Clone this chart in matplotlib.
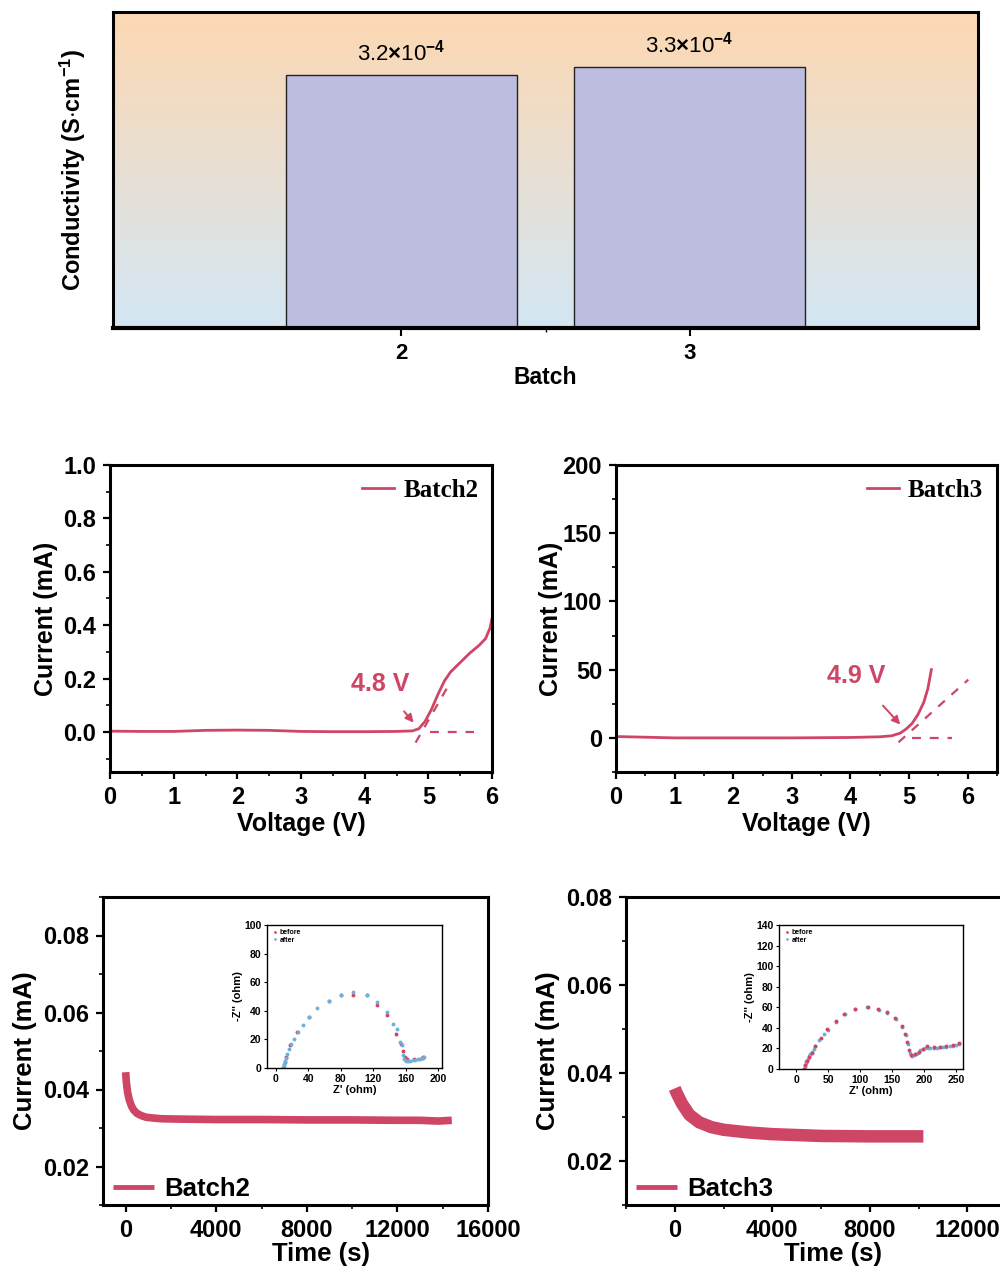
import matplotlib
matplotlib.use("Agg")
import matplotlib.pyplot as plt
import numpy as np
from matplotlib.ticker import MultipleLocator, FixedLocator

plt.rcParams['font.family'] = ['Liberation Sans', 'DejaVu Sans']
plt.rcParams['font.weight'] = 'bold'
plt.rcParams['mathtext.fontset'] = 'custom'
plt.rcParams['mathtext.rm'] = 'Liberation Sans'
plt.rcParams['mathtext.bf'] = 'Liberation Sans:bold'
plt.rcParams['mathtext.it'] = 'Liberation Sans:italic'

RED = '#CF4566'
BLUE = '#6FAFD8'

# ---------------- data ----------------
batches = ['2', '3']
batch_pos = [2, 3]
conductivity = [3.2e-4, 3.3e-4]
cond_labels = [r'3.2$\times$10$^{-4}$', r'3.3$\times$10$^{-4}$']

lsv2_v = [0, 0.5, 1.0, 1.5, 2.0, 2.5, 3.0, 3.5, 4.0, 4.5, 4.75, 4.85, 4.95, 5.05, 5.15, 5.25, 5.35, 5.5, 5.65, 5.8, 5.9, 5.97, 6.0]
lsv2_i = [0.003, 0.002, 0.002, 0.006, 0.007, 0.006, 0.002, 0.001, 0.001, 0.002, 0.004, 0.012, 0.04, 0.085, 0.14, 0.19, 0.225, 0.26, 0.295, 0.325, 0.35, 0.39, 0.425]
lsv2_tan_v = [4.8, 5.34]
lsv2_tan_i = [-0.04, 0.184]
lsv2_base_v = [5.03, 5.71]
lsv2_base_i = [0.0, 0.0]

lsv3_v = [0, 0.5, 1, 2, 3, 4, 4.5, 4.7, 4.85, 4.95, 5.05, 5.15, 5.25, 5.32, 5.38]
lsv3_i = [1, 0.5, 0, 0, 0, 0.3, 0.8, 1.5, 3.5, 6.5, 10.5, 17, 26, 36, 50]
lsv3_tan_v = [4.82, 6.01]
lsv3_tan_i = [-3.2, 42.7]
lsv3_base_v = [5.05, 5.73]
lsv3_base_i = [0.0, 0.0]

ca2_t = [0, 30, 80, 150, 250, 350, 500, 700, 900, 1200, 1600, 2500, 4000, 6000, 8000, 10000, 12000, 13000, 13800, 14400]
ca2_i = [0.0445, 0.042, 0.0395, 0.0375, 0.0358, 0.0347, 0.0338, 0.0332, 0.0328, 0.0326, 0.0324, 0.0323, 0.0322, 0.0322, 0.0321, 0.0321, 0.0320, 0.0320, 0.0318, 0.0320]

ca3_t = [0, 100, 300, 600, 1000, 1500, 2000, 3000, 4000, 6000, 8000, 10200]
ca3_i = [0.0365, 0.0352, 0.0330, 0.0305, 0.0288, 0.0277, 0.0271, 0.0265, 0.0261, 0.0257, 0.0256, 0.0256]

eis2_before_x = [10, 11, 13, 18, 26, 41, 65, 80, 95, 112, 125, 137, 148, 154, 157, 159, 162, 170, 180, 182]
eis2_before_y = [0, 4, 8, 16, 25, 36, 47, 51, 51, 51, 44, 37, 24, 17, 12, 8, 6, 6, 7, 8]
eis2_after_x = [9, 9, 10, 10, 11, 12, 14, 16, 19, 22, 27, 33, 41, 51, 65, 80, 95, 112, 125, 137, 145, 149, 153, 156, 157, 158, 160, 163, 166, 169, 172, 175, 178, 181, 183]
eis2_after_y = [0, 1, 2, 3, 5, 7, 10, 13, 17, 20, 25, 30, 36, 42, 47, 51, 53, 51, 46, 39, 31, 27, 18, 16, 9, 6, 5, 5, 5, 5.5, 5.5, 6, 6.5, 7, 7.5]

eis3_before_x = [12, 14, 17, 20, 24, 30, 38, 48, 62, 75, 92, 112, 128, 142, 155, 165, 170, 174, 177, 180, 186, 192, 198, 205, 215, 225, 235, 245, 255]
eis3_before_y = [0, 4, 8, 12, 16, 22, 30, 39, 47, 53, 58, 60, 58, 55, 50, 42, 34, 26, 18, 14, 15, 17, 19, 22, 21, 21, 22, 23, 25]
eis3_after_x = [12, 13, 14, 15, 16, 18, 20, 22, 24, 27, 30, 36, 44, 50, 62, 76, 92, 110, 130, 142, 156, 166, 171, 175, 178, 181, 184, 187, 190, 194, 198, 202, 206, 210, 215, 220, 225, 230, 235, 240, 245, 250, 255]
eis3_after_y = [0, 2, 4, 6, 8, 10, 13, 15, 17, 19, 22, 28, 34, 38, 46, 53, 58, 60, 57, 54, 49, 41, 33, 24, 16, 13, 14, 15, 16, 18, 19, 20, 20, 20, 20, 20, 21, 21, 21, 22, 22, 23, 24]

# ---------------- figure ----------------
fig = plt.figure(figsize=(10, 12.77), dpi=100)
W, H = 1000, 1277

def ax_px(x0, y0, x1, y1):
    return fig.add_axes([x0 / W, 1 - y1 / H, (x1 - x0) / W, (y1 - y0) / H])

def style(ax, lw=2.2):
    for s in ax.spines.values():
        s.set_linewidth(lw)
    ax.tick_params(which='major', direction='out', length=5, width=1.6, pad=5)
    ax.tick_params(which='minor', direction='out', length=3, width=1.2)

# ---- top: conductivity bar chart ----
ax0 = ax_px(113, 12, 978, 328)
ax0.set_xlim(1, 4)
ax0.set_ylim(0, 4e-4)
top = np.array([253, 216, 178]) / 255
bot = np.array([212, 231, 245]) / 255
grad = np.linspace(0, 1, 256)[:, None]
img = top[None, None, :] * (1 - grad[:, :, None]) + bot[None, None, :] * grad[:, :, None]
ax0.imshow(img, extent=[1, 4, 0, 4e-4], aspect='auto', zorder=0, origin='upper')
ax0.bar(batch_pos, conductivity, width=0.8, color='#BDBDDF', edgecolor='#222222', linewidth=1.0, zorder=2)
for xp, v, lab in zip(batch_pos, conductivity, cond_labels):
    ax0.text(xp, v + 0.12e-4, lab, ha='center', va='bottom', fontsize=16,
             fontweight='normal', zorder=3)
ax0.set_xticks(batch_pos)
ax0.set_xticklabels(batches, fontsize=16, fontweight='bold')
ax0.set_yticks([])
ax0.xaxis.set_minor_locator(FixedLocator([2.5]))
ax0.set_xlabel('Batch', fontsize=16.5, fontweight='bold', labelpad=1)
ax0.set_ylabel(r'Conductivity (S$\cdot$cm$^{\mathbf{-1}}$)', fontsize=17, fontweight='bold', labelpad=18)
for s in ax0.spines.values():
    s.set_linewidth(2.2)
ax0.spines['bottom'].set_linewidth(3)
ax0.tick_params(axis='x', which='major', direction='out', length=6, width=1.5, pad=5)
ax0.tick_params(axis='x', which='minor', direction='out', length=3, width=1.0)

serif = ['Liberation Serif', 'DejaVu Serif']

# ---- LSV batch2 ----
ax1 = ax_px(110, 465, 492, 772)
ax1.plot(lsv2_v, lsv2_i, color=RED, lw=2.0, label='Batch2')
ax1.plot(lsv2_tan_v, lsv2_tan_i, color=RED, lw=1.6, ls=(0, (4, 4)))
ax1.plot(lsv2_base_v, lsv2_base_i, color=RED, lw=1.6, ls=(0, (4, 4)))
ax1.annotate('4.8 V', xy=(4.77, 0.035), xytext=(4.25, 0.18), color=RED, fontsize=18,
             fontweight='bold', ha='center', va='center',
             arrowprops=dict(arrowstyle='-|>', color=RED, lw=1.4, shrinkA=12, shrinkB=0, mutation_scale=12))
ax1.set_xlim(0, 6)
ax1.set_ylim(-0.15, 1.0)
ax1.set_xticks(range(0, 7))
ax1.set_yticks([0.0, 0.2, 0.4, 0.6, 0.8, 1.0])
ax1.set_yticklabels(['0.0', '0.2', '0.4', '0.6', '0.8', '1.0'])
ax1.xaxis.set_minor_locator(MultipleLocator(0.5))
ax1.yaxis.set_minor_locator(MultipleLocator(0.1))
style(ax1)
ax1.tick_params(labelsize=17)
ax1.set_xlabel('Voltage (V)', fontsize=18, fontweight='bold', labelpad=2)
ax1.set_ylabel('Current (mA)', fontsize=18, fontweight='bold', labelpad=4)
ax1.legend(loc='upper right', frameon=False, prop={'family': serif, 'weight': 'bold', 'size': 18},
           handlelength=1.3, borderaxespad=0.15, handletextpad=0.35)

# ---- LSV batch3 ----
ax2 = ax_px(616, 465, 997, 772)
ax2.plot(lsv3_v, lsv3_i, color=RED, lw=2.0, label='Batch3')
ax2.plot(lsv3_tan_v, lsv3_tan_i, color=RED, lw=1.6, ls=(0, (4, 4)))
ax2.plot(lsv3_base_v, lsv3_base_i, color=RED, lw=1.6, ls=(0, (4, 4)))
ax2.annotate('4.9 V', xy=(4.85, 9.8), xytext=(4.1, 45), color=RED, fontsize=18,
             fontweight='bold', ha='center', va='center',
             arrowprops=dict(arrowstyle='-|>', color=RED, lw=1.4, shrinkA=14, shrinkB=0, mutation_scale=12))
ax2.set_xlim(0, 6.5)
ax2.set_ylim(-25, 200)
ax2.set_xticks(range(0, 7))
ax2.set_yticks([0, 50, 100, 150, 200])
ax2.xaxis.set_minor_locator(MultipleLocator(0.5))
ax2.yaxis.set_minor_locator(MultipleLocator(25))
style(ax2)
ax2.tick_params(labelsize=17)
ax2.set_xlabel('Voltage (V)', fontsize=18, fontweight='bold', labelpad=2)
ax2.set_ylabel('Current (mA)', fontsize=18, fontweight='bold', labelpad=0)
ax2.legend(loc='upper right', frameon=False, prop={'family': serif, 'weight': 'bold', 'size': 18},
           handlelength=1.3, borderaxespad=0.15, handletextpad=0.35)

# ---- CA batch2 ----
ax3 = ax_px(103, 897, 488, 1205)
ax3.plot(ca2_t, ca2_i, color=RED, lw=5.5, label='Batch2', solid_capstyle='butt')
ax3.set_xlim(-1000, 16000)
ax3.set_ylim(0.01, 0.09)
ax3.set_xticks([0, 4000, 8000, 12000, 16000])
ax3.set_yticks([0.02, 0.04, 0.06, 0.08])
ax3.xaxis.set_minor_locator(MultipleLocator(2000))
ax3.yaxis.set_minor_locator(MultipleLocator(0.01))
style(ax3)
ax3.tick_params(labelsize=17)
ax3.set_xlabel('Time (s)', fontsize=18.5, fontweight='bold', labelpad=1)
ax3.xaxis.set_label_coords(0.566, -0.12)
ax3.set_ylabel('Current (mA)', fontsize=18.5, fontweight='bold', labelpad=4)
leg3 = ax3.legend(loc='lower left', frameon=False, prop={'weight': 'bold', 'size': 18.5},
                  handlelength=1.6, borderaxespad=0.0, handletextpad=0.4, bbox_to_anchor=(0.0, -0.02))
for l in leg3.get_lines():
    l.set_linewidth(3.5)

# ---- CA batch3 ----
ax4 = ax_px(626, 897, 1016, 1205)
ax4.plot(ca3_t, ca3_i, color=RED, lw=9.0, label='Batch3', solid_capstyle='butt')
ax4.set_xlim(-2000, 14000)
ax4.set_ylim(0.01, 0.08)
ax4.set_xticks([0, 4000, 8000, 12000])
ax4.set_yticks([0.02, 0.04, 0.06, 0.08])
ax4.xaxis.set_minor_locator(MultipleLocator(2000))
ax4.yaxis.set_minor_locator(MultipleLocator(0.01))
style(ax4)
ax4.tick_params(labelsize=17)
ax4.set_xlabel('Time (s)', fontsize=18.5, fontweight='bold', labelpad=1)
ax4.xaxis.set_label_coords(0.53, -0.12)
ax4.set_ylabel('Current (mA)', fontsize=18.5, fontweight='bold', labelpad=4)
leg4 = ax4.legend(loc='lower left', frameon=False, prop={'weight': 'bold', 'size': 18.5},
                  handlelength=1.6, borderaxespad=0.0, handletextpad=0.4, bbox_to_anchor=(0.0, -0.02))
for l in leg4.get_lines():
    l.set_linewidth(3.5)

# ---- insets ----
def inset_style(ax):
    for s in ax.spines.values():
        s.set_linewidth(1.0)
    ax.tick_params(which='major', direction='out', length=2.5, width=0.8, labelsize=7.5, pad=1.5)

ai1 = ax_px(267, 925, 442, 1068)
ai1.plot(eis2_before_x, eis2_before_y, 'o', ms=2.8, color=RED, mec='none', label='before')
ai1.plot(eis2_after_x, eis2_after_y, 'o', ms=2.8, color=BLUE, mec='none', label='after')
ai1.set_xlim(-11, 205)
ai1.set_ylim(0, 100)
ai1.set_xticks([0, 40, 80, 120, 160, 200])
ai1.set_yticks([0, 20, 40, 60, 80, 100])
ai1.set_xlabel("Z' (ohm)", fontsize=8, fontweight='bold', labelpad=1)
ai1.set_ylabel("-Z'' (ohm)", fontsize=8, fontweight='bold', labelpad=1)
inset_style(ai1)
ai1.legend(loc='upper left', frameon=False, prop={'size': 5}, handlelength=1.0, markerscale=0.7,
           borderaxespad=0.2, labelspacing=0.1, handletextpad=0.2)

ai2 = ax_px(779, 925, 963, 1069)
ai2.plot(eis3_after_x, eis3_after_y, 'o', ms=2.8, color=BLUE, mec='none', label='after')
ai2.plot(eis3_before_x, eis3_before_y, 'o', ms=2.8, color=RED, mec='none', label='before')
ai2.set_xlim(-27, 261)
ai2.set_ylim(0, 140)
ai2.set_xticks([0, 50, 100, 150, 200, 250])
ai2.set_yticks([0, 20, 40, 60, 80, 100, 120, 140])
ai2.set_xlabel("Z' (ohm)", fontsize=8, fontweight='bold', labelpad=1)
ai2.set_ylabel("-Z'' (ohm)", fontsize=8, fontweight='bold', labelpad=1)
inset_style(ai2)
h, l = ai2.get_legend_handles_labels()
ai2.legend(h[::-1], l[::-1], loc='upper left', frameon=False, prop={'size': 5}, handlelength=1.0, markerscale=0.7,
           borderaxespad=0.2, labelspacing=0.1, handletextpad=0.2)

fig.savefig('out.png', dpi=100)
